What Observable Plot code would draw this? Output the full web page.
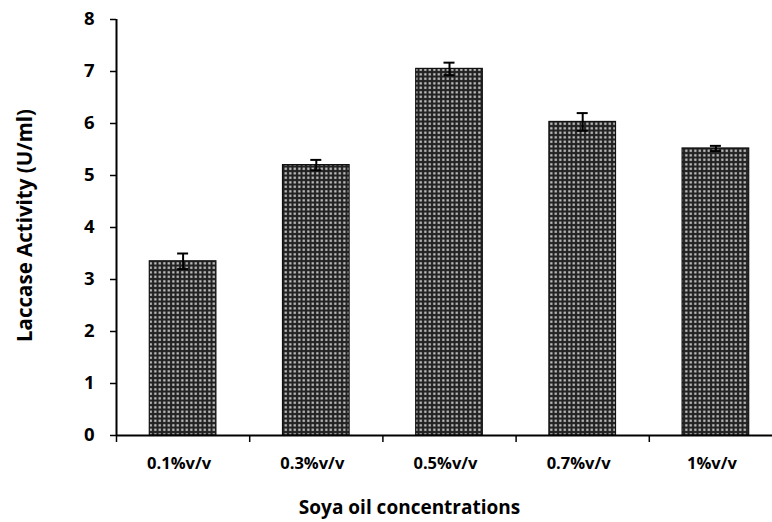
<!DOCTYPE html>
<html>
<head>
<meta charset="utf-8">
<script src="https://cdn.jsdelivr.net/npm/d3@7"></script>
<script src="https://cdn.jsdelivr.net/npm/@observablehq/plot@0.6"></script>
<style>
  html, body { margin: 0; padding: 0; background: #fff; overflow: hidden; }
  svg { overflow: visible; }
  svg text { font-weight: bold; }
</style>
</head>
<body>
<div id="chart"></div>
<script>
const categories = ["0.1%v/v", "0.3%v/v", "0.5%v/v", "0.7%v/v", "1%v/v"];
const activity = [3.35, 5.2, 7.05, 6.03, 5.52];
const errors = [0.15, 0.1, 0.12, 0.17, 0.05];
const yTicks = [0, 1, 2, 3, 4, 5, 6, 7, 8];
const xTitle = "Soya oil concentrations";
const yTitle = "Laccase Activity (U/ml)";

const data = categories.map((c, i) => ({i, c, v: activity[i], e: errors[i]}));
const boundaries = d3.range(categories.length + 1);
const centers = categories.map((c, i) => i + 0.5);
const font = "'Open Sans', 'DejaVu Sans', sans-serif";

const plot = Plot.plot({
  width: 772,
  height: 522,
  marginLeft: 116,
  marginRight: -10,
  marginTop: 19,
  marginBottom: 87,
  style: {fontFamily: font, fontWeight: "bold", background: "#fff"},
  x: {domain: [0, categories.length], axis: null},
  y: {domain: [0, 8], axis: null},
  marks: [
    Plot.rectY(data, {
      x1: d => d.i + 0.25, x2: d => d.i + 0.75, y1: 0, y2: "v",
      fill: "url(#dotpat)", stroke: "#111", strokeWidth: 1.2
    }),
    Plot.ruleX(data, {x: d => d.i + 0.5, y1: d => d.v - d.e, y2: d => d.v + d.e, stroke: "#000", strokeWidth: 2}),
    Plot.ruleY(data, {x1: d => d.i + 0.5, x2: d => d.i + 0.5, y: d => d.v + d.e, insetLeft: -5.5, insetRight: -5.5, stroke: "#000", strokeWidth: 2}),
    Plot.ruleY(data, {x1: d => d.i + 0.5, x2: d => d.i + 0.5, y: d => d.v - d.e, insetLeft: -5.5, insetRight: -5.5, stroke: "#000", strokeWidth: 2}),
    Plot.axisY({ticks: yTicks, tickSize: 6, tickPadding: 16, fontSize: 18.5, fontWeight: "bold", label: null, stroke: "#000", strokeWidth: 1.5}),
    Plot.ruleX([0], {stroke: "#000", strokeWidth: 2}),
    Plot.ruleY([0], {stroke: "#000", strokeWidth: 2}),
    Plot.axisX({ticks: boundaries, tickSize: 7, tickFormat: () => "", stroke: "#000", strokeWidth: 1.5, label: null}),
    Plot.axisX({ticks: centers, tickSize: 0, tickPadding: 22, dx: -4, fontSize: 16.5, fontWeight: "bold", tickFormat: d => categories[Math.floor(d)], label: null}),
    Plot.text([xTitle], {x: 2.2, y: 0, dy: 72, text: d => d, fontSize: 19, fontWeight: "bold", fill: "#000", frameAnchor: "middle"}),
    Plot.text([yTitle], {frameAnchor: "left", dx: -91, dy: -2, rotate: -90, textAnchor: "middle", text: d => d, fontSize: 20.5, fontWeight: "bold", fill: "#000"})
  ]
});

// pattern definition for the dotted bar fill
const svg = d3.select(plot);
const defs = svg.insert("defs", ":first-child");
const pat = defs.append("pattern").attr("id", "dotpat").attr("patternUnits", "userSpaceOnUse")
  .attr("width", 4.5).attr("height", 4.5);
pat.append("rect").attr("width", 4.5).attr("height", 4.5).attr("fill", "#222");
pat.append("rect").attr("x", 1.2).attr("y", 1.2).attr("width", 2.2).attr("height", 2.2).attr("fill", "#d0d0d0");

document.getElementById("chart").appendChild(plot);
</script>
</body>
</html>
